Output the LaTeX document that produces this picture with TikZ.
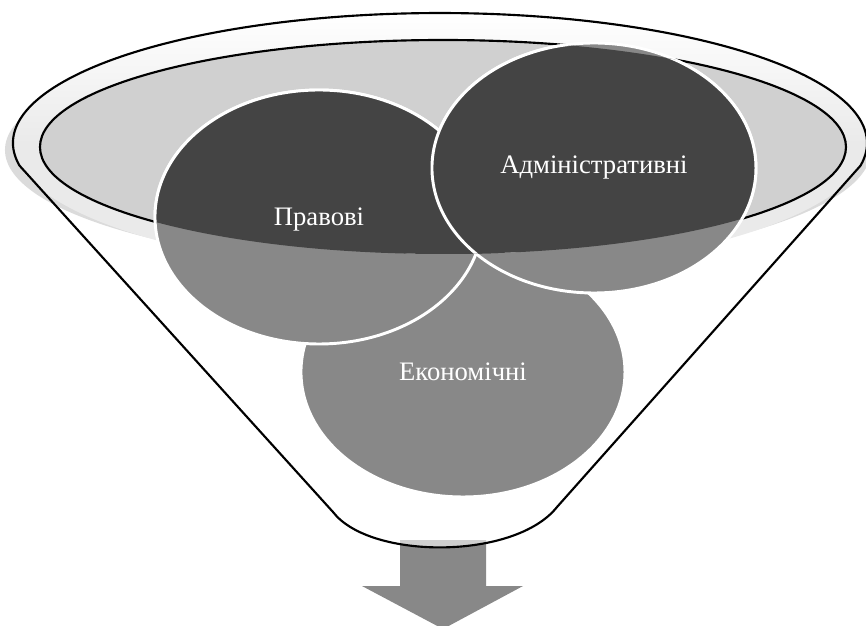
\documentclass[tikz,border=0pt]{standalone}
\usepackage{fontspec}
\setmainfont{Liberation Serif}
\usepackage{tkz-euclide}
\usetikzlibrary{calc}
\definecolor{BubbleClr}{rgb}{0.533,0.533,0.533}
\definecolor{DeepClr}{rgb}{0.267,0.267,0.267}
\definecolor{MouthClr}{rgb}{0.816,0.816,0.816}
\definecolor{RimClr}{rgb}{0.918,0.918,0.918}
\definecolor{ShadowClr}{rgb}{0.86,0.86,0.86}

\begin{document}
\begin{tikzpicture}[scale=.75,x=1pt,y=-1pt,
  bubble/.style={fill=#1,draw=white,line width=2.2pt},
  bubbletext/.style={text=white,font=\fontsize{20}{24}\selectfont},
  funnelline/.style={line width=1.6pt,line join=round}]
\useasboundingbox (0,0) rectangle (866,625);

\tkzDefPoints{440/143/O,443/147/M,319/217/P,594/168/A,463/372/E}

% arrow out of the funnel
\fill[BubbleClr] (400,540) -- (486,540) -- (486,586) -- (523,586) -- (443,629)
  -- (362,586) -- (400,586) -- cycle;

% funnel body
\fill[white,fill opacity=.6] (19.5,165.6) arc[start angle=170,end angle=370,x radius=427,y radius=130]
  -- (557,507) .. controls (515,560) and (370,560) .. (333,512) -- cycle;

\fill[ShadowClr] ($(O)+(-2,7)$) ellipse [x radius=433,y radius=118];
\shade[top color=white,bottom color=RimClr,middle color=RimClr] (O) ellipse [x radius=427,y radius=130];
\filldraw[fill=MouthClr,funnelline] (M) ellipse [x radius=403,y radius=107];

% the three bubbles, then their part inside the mouth
\foreach \c/\rx/\ry in {E/162/125,P/164/127,A/162/125}
  \path[bubble=BubbleClr] (\c) ellipse [x radius=\rx,y radius=\ry];
\begin{scope}
\clip (M) ellipse [x radius=403,y radius=107];
\foreach \c/\rx/\ry in {E/162/125,P/164/127,A/162/125}
  \path[bubble=DeepClr] (\c) ellipse [x radius=\rx,y radius=\ry];
\end{scope}

\draw[funnelline] (19.5,165.6) arc[start angle=170,end angle=370,x radius=427,y radius=130]
  -- (557,507) .. controls (515,560) and (370,560) .. (333,512) -- cycle;

\node[bubbletext] (pravovi) at ($(P)+(0,3)$) {Правові};
\node[bubbletext] (admin) at (A) {Адміністративні};
\node[bubbletext] (ekon) at (E) {Економічні};

\end{tikzpicture}
\end{document}
